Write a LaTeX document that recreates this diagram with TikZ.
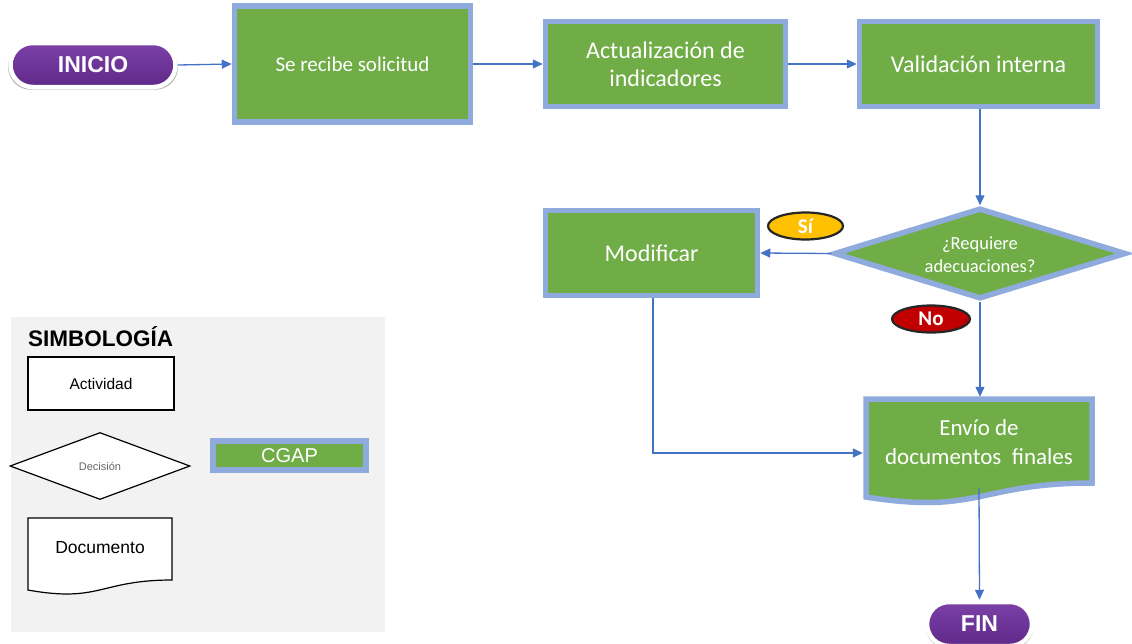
\documentclass[tikz,border=0pt]{standalone}
\usepackage{fontspec}
\setmainfont{Carlito}
\newfontfamily\arialf{Liberation Sans}
\usetikzlibrary{shapes.geometric,arrows.meta,shadows,calc}
\definecolor{gfill}{HTML}{70AD47}
\definecolor{bbord}{HTML}{8FAADC}
\definecolor{arr}{HTML}{4472C4}
\definecolor{purp}{HTML}{7030A0}
\definecolor{gold}{HTML}{FFC000}
\definecolor{dred}{HTML}{C00000}
\definecolor{lgray}{HTML}{F2F2F2}
\definecolor{dtxt}{HTML}{262626}
\tikzset{
  act/.style={rectangle, fill=gfill, draw=bbord, line width=5.5pt, text=white, align=center,
    inner sep=0pt, font=\fontsize{24}{28}\selectfont},
  decbox/.style={diamond, fill=gfill, draw=bbord, line width=5.5pt, inner sep=0pt},
  pill/.style={rectangle, rounded corners=22pt, draw=white, line width=4.5pt,
    top color=purp!92!white, bottom color=purp!85!black, text=white,
    font=\arialf\bfseries\fontsize{23}{26}\selectfont, minimum height=44pt, inner sep=0pt,
    drop shadow={shadow xshift=0pt, shadow yshift=-2pt, shadow scale=1.03, opacity=0.3, fill=black}},
  tag/.style={ellipse, draw=dtxt, line width=2.2pt, text=white, inner sep=0pt,
    font=\bfseries\fontsize{21}{22}\selectfont, minimum width=75pt, minimum height=27pt},
  conn/.style={draw=arr, line width=1.3pt, -{Triangle[length=10pt,width=9pt]}},
  leg/.style={draw=black, line width=1.2pt, fill=white, inner sep=0pt},
  docline/.style={fill=gfill, draw=bbord, line width=5.5pt, line join=miter},
}
\begin{document}
\begin{tikzpicture}[x=1pt,y=-1pt]
\useasboundingbox (0,0) rectangle (1132,643);
% legend background
\fill[lgray] (11,317) rectangle (385,632);
\node[anchor=west, font=\arialf\bfseries\fontsize{22.5}{25}\selectfont, inner sep=0pt] (simb) at (28,337) {SIMBOLOGÍA};
\node[leg, minimum width=146pt, minimum height=53pt, font=\arialf\fontsize{15.5}{18}\selectfont] (lact) at (101,383.5) {Actividad};
\node[leg, diamond, minimum width=180pt, minimum height=67pt, text=black!60, font=\arialf\fontsize{11}{13}\selectfont] (ldec) at (100,466) {Decisión};
\draw[draw=black, line width=1.2pt, fill=white] (28,518) -- (172,518) -- (172,580) .. controls (100,580) and (100,603) .. (28,590) -- cycle;
\node[font=\arialf\fontsize{17.5}{20}\selectfont, inner sep=0pt] (ldoc) at (100,548) {Documento};
\node[rectangle, fill=gfill, draw=bbord, line width=6pt, minimum width=153pt, minimum height=29pt,
  inner sep=0pt, text=white, font=\arialf\fontsize{20}{22}\selectfont] (lcgap) at (289.5,455.5) {CGAP};

% main nodes
\node[pill, minimum width=165pt] (ini) at (93,65) {INICIO};
\node[act, minimum width=236pt, minimum height=116pt, font=\fontsize{21}{24}\selectfont] (rec) at (352.5,64) {Se recibe solicitud};
\node[act, minimum width=240pt, minimum height=85pt] (actu) at (665.5,64) {Actualización de\\indicadores};
\node[act, minimum width=238pt, minimum height=85pt] (val) at (978.5,64) {Validación interna};
\node[decbox, minimum width=292pt, minimum height=91pt] (dec) at (980,253.5) {};
\node[text=white, align=center, inner sep=0pt, font=\fontsize{18.5}{23}\selectfont] (dectxt) at (980,255) {¿Requiere\\adecuaciones?};
\node[act, minimum width=212pt, minimum height=85pt] (mod) at (651.5,253) {Modificar};
% document shape
\draw[docline] (866,399) -- (1092,399) -- (1092,483) .. controls (979,483) and (979,515) .. (866,497) -- cycle;
\node[rectangle, minimum width=232pt, minimum height=91pt, inner sep=0pt, text=white, align=center,
  font=\fontsize{23}{29}\selectfont] (env) at (979,442.5) {Envío de\\documentos\ \ finales};
\node[pill, minimum width=105pt] (fin) at (979.5,624) {FIN};

% tags
\node[tag, fill=gold] (si) at (805.5,226) {Sí};
\node[tag, fill=dred, minimum width=78pt] (no) at (931,319) {No};

% connectors
\draw[conn] (ini.east) -- (rec.west);
\draw[conn] (rec.east |- actu.west) -- (actu.west);
\draw[conn] (actu.east) -- (val.west);
\draw[conn] (dec.north |- val.south) -- (dec.north);
\draw[conn] (dec.west) -- (mod.east);
\draw[conn] (dec.south) -- (env.north -| dec.south);
\draw[conn] ([xshift=1.5pt]mod.south) |- ([yshift=-10.5pt]env.west);
\draw[conn] ([yshift=-45pt]env.center) -- (fin.north);
\end{tikzpicture}
\end{document}
